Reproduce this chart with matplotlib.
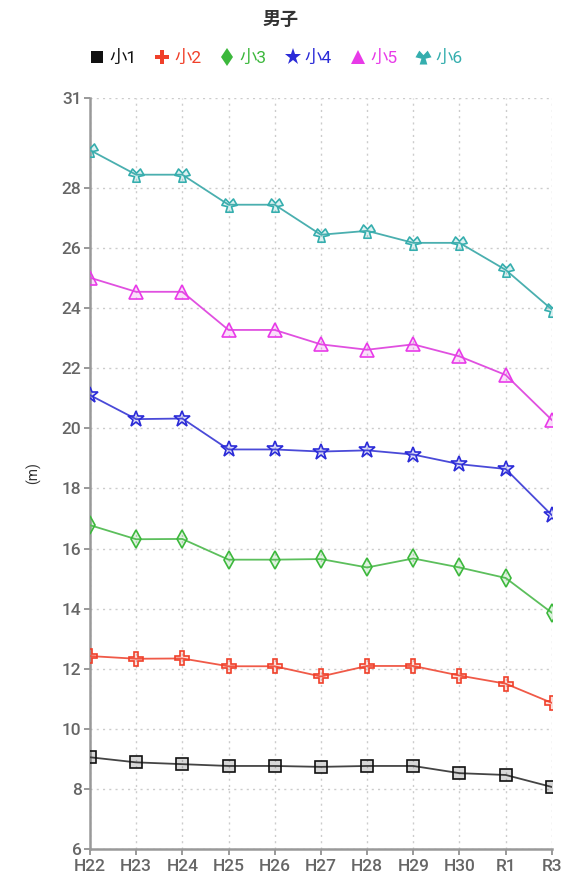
import matplotlib.pyplot as plt
import numpy as np
from matplotlib.path import Path
from matplotlib.lines import Line2D

plt.rcParams['font.family'] = ['Roboto', 'Noto Sans CJK JP', 'DejaVu Sans']

years = ['H22', 'H23', 'H24', 'H25', 'H26', 'H27', 'H28', 'H29', 'H30', 'R1', 'R3']
s1 = [9.05, 8.88, 8.82, 8.76, 8.76, 8.73, 8.76, 8.76, 8.52, 8.46, 8.06]
s2 = [12.42, 12.33, 12.34, 12.08, 12.08, 11.74, 12.09, 12.09, 11.77, 11.50, 10.86]
s3 = [16.78, 16.31, 16.32, 15.63, 15.63, 15.65, 15.37, 15.67, 15.37, 15.02, 13.86]
s4 = [21.11, 20.31, 20.33, 19.30, 19.30, 19.23, 19.27, 19.13, 18.81, 18.65, 17.11]
s5 = [25.02, 24.55, 24.55, 23.28, 23.28, 22.80, 22.62, 22.80, 22.40, 21.78, 20.28]
s6 = [29.27, 28.45, 28.45, 27.45, 27.45, 26.45, 26.58, 26.18, 26.18, 25.28, 23.96]

names = ['小1', '小2', '小3', '小4', '小5', '小6']
colors = ['#111111', '#f0402a', '#3cb83c', '#2b2bd8', '#e83ae8', '#35aeae']
linecolors = ['#444444', '#f05a48', '#5cbf5c', '#4a4ad8', '#e050e0', '#4aafaf']

# three-lobed marker for 小6
ang = np.deg2rad([90, 210, 330])
verts = []
for a in ang:
    for da in (-0.5, 0.5):
        verts.append((np.cos(a + da), np.sin(a + da)))
    verts.append((np.cos(a + np.pi / 3) * 0.3, np.sin(a + np.pi / 3) * 0.3))
verts = [(px, -py) for px, py in verts]
verts.append(verts[0])
codes = [Path.MOVETO] + [Path.LINETO] * (len(verts) - 2) + [Path.CLOSEPOLY]
trefoil = Path(verts, codes)

markers = ['s', 'P', 'd', '*', '^', trefoil]
sizes = [8, 10, 9, 12, 10, 11]
series = [s1, s2, s3, s4, s5, s6]

fig = plt.figure(figsize=(5.62, 8.76), dpi=100)
ax = fig.add_axes([0.160, 0.031, 0.822, 0.857])

x = np.arange(len(years))
for vals, c, lc, m, ms in zip(series, colors, linecolors, markers, sizes):
    ax.plot(x, vals, color=lc, lw=1.3, marker=m, ms=ms,
            markerfacecolor=c + '2a', markeredgecolor=c, markeredgewidth=1.2, zorder=3)

ax.set_xlim(0, len(years) - 1)
ax.set_ylim(6, 31)
ax.set_xticks(x)
ax.set_xticklabels(years)
ax.set_yticks([6, 8, 10, 12, 14, 16, 18, 20, 22, 24, 26, 28, 31])
ax.tick_params(labelsize=12.5, colors='#888888', labelcolor='#666666', length=4, width=1.2)
ax.tick_params(axis='x', pad=3)
ax.tick_params(axis='y', pad=2)
for lab in ax.get_xticklabels() + ax.get_yticklabels():
    lab.set_fontweight('medium')
ax.grid(True, linestyle=(0, (1.5, 3)), color='#cccccc', lw=1)
for sp in ['top', 'right']:
    ax.spines[sp].set_visible(False)
for sp in ['left', 'bottom']:
    ax.spines[sp].set_color('#999999')
    ax.spines[sp].set_linewidth(1.8)
ax.set_ylabel('(m)', fontsize=10, color='#333333')
ax.yaxis.set_label_coords(-0.105, 0.5)

fig.suptitle('男子', fontsize=13, fontweight='bold', color='#333333', y=0.988)

handles = [Line2D([], [], ls='none', marker=m, color=c, ms=ms * 1.05, markeredgewidth=0)
           for m, c, ms in zip(markers, colors, sizes)]
leg = fig.legend(handles, names, loc='center', bbox_to_anchor=(0.49, 0.934), ncol=6,
                 frameon=False, fontsize=12.5, handletextpad=0.2, columnspacing=1.0,
                 handlelength=1.0, labelcolor=colors)

fig.savefig('out.png', dpi=100)
